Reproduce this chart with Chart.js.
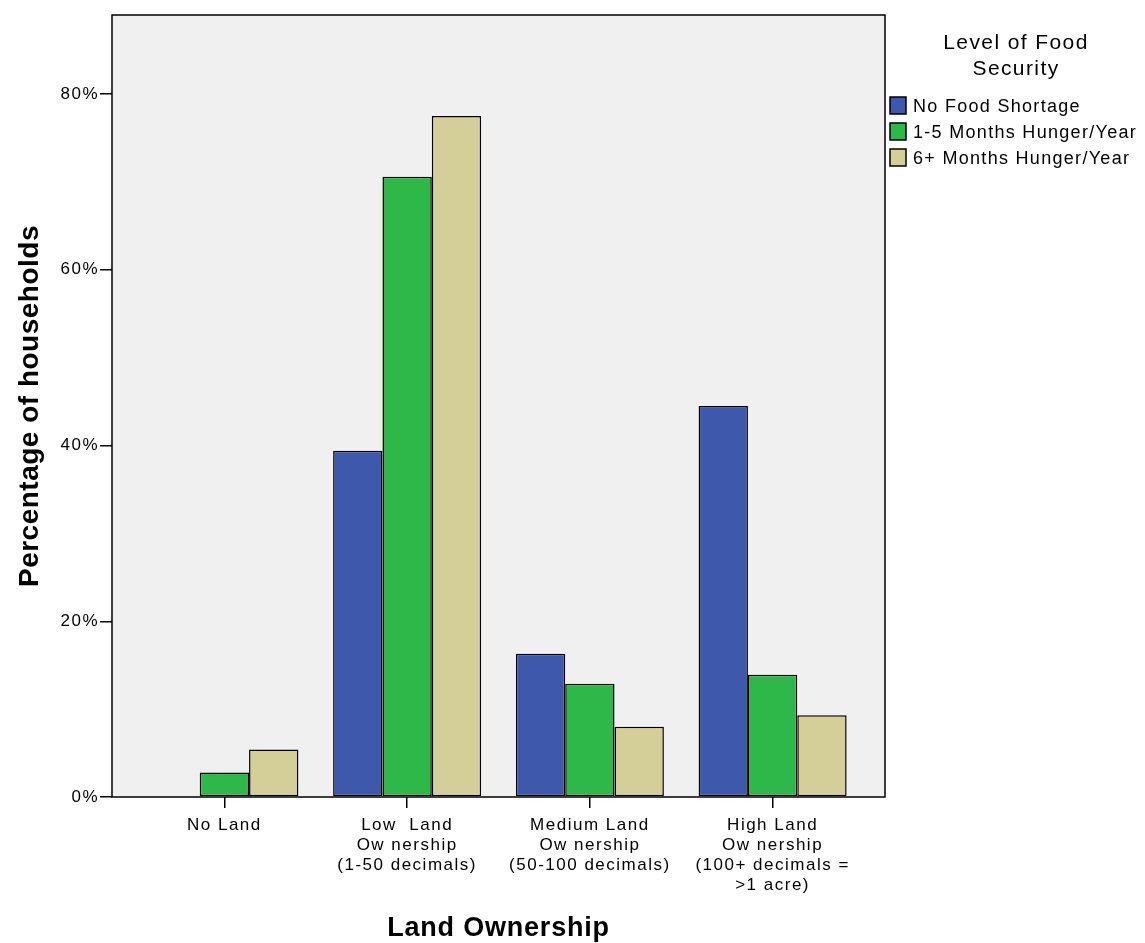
<!DOCTYPE html>
<html><head><meta charset="utf-8">
<script src="https://cdn.jsdelivr.net/npm/chart.js@4"></script>
<style>html,body{margin:0;padding:0;background:#fff}#wrap{width:1145px;height:943px}</style>
</head><body><div id="wrap"><canvas id="c" width="1145" height="943"></canvas></div>
<script>
const categories = [
  ["No Land"],
  ["Low  Land", "Ow nership", "(1-50 decimals)"],
  ["Medium Land", "Ow nership", "(50-100 decimals)"],
  ["High Land", "Ow nership", "(100+ decimals =", ">1 acre)"]
];
const seriesNames = ["No Food Shortage", "1-5 Months Hunger/Year", "6+ Months Hunger/Year"];
const noShortage = [0, 39.4, 16.3, 44.5];
const hunger1to5 = [2.8, 70.6, 12.9, 13.9];
const hunger6plus = [5.4, 77.5, 8.0, 9.3];
const yTicks = [0, 20, 40, 60, 80];
const colors = ["#3e58ac", "#2fb84a", "#d4cf98"];
const FONT = "'Liberation Sans', Arial, sans-serif";

const spacing = {
  id: 'spacing',
  beforeUpdate(chart) { chart.ctx.letterSpacing = '1.5px'; },
  beforeDraw(chart) { chart.ctx.letterSpacing = '1.5px'; }
};

const decor = {
  id: 'decor',
  beforeDatasetsDraw(chart) {
    const {ctx, chartArea: a} = chart;
    ctx.save();
    ctx.fillStyle = '#f0f0f0';
    ctx.fillRect(a.left, a.top, a.right - a.left, a.bottom - a.top);
    ctx.restore();
  },
  afterDatasetsDraw(chart) {
    const {ctx, chartArea: a} = chart;
    ctx.save();
    ctx.strokeStyle = '#000';
    ctx.lineWidth = 1.5;
    ctx.strokeRect(a.left, a.top, a.right - a.left, a.bottom - a.top);
    // axis titles
    ctx.fillStyle = '#000';
    ctx.font = "bold 27px " + FONT;
    ctx.letterSpacing = '0.8px';
    ctx.textAlign = 'center';
    ctx.textBaseline = 'middle';
    ctx.fillText("Land Ownership", (a.left + a.right) / 2, 929);
    ctx.translate(30, 406);
    ctx.rotate(-Math.PI / 2);
    ctx.font = "bold 28px " + FONT;
    ctx.letterSpacing = '0.5px';
    ctx.fillText("Percentage of households", 0, 0);
    ctx.restore();
    // legend
    ctx.save();
    ctx.fillStyle = '#000';
    ctx.font = "21px " + FONT;
    ctx.letterSpacing = '1.4px';
    ctx.textAlign = 'center';
    ctx.textBaseline = 'middle';
    ctx.fillText("Level of Food", 1016, 43);
    ctx.fillText("Security", 1016, 69);
    ctx.font = "18px " + FONT;
    ctx.letterSpacing = '1.3px';
    ctx.textAlign = 'left';
    const ys = [106, 132, 158];
    seriesNames.forEach((n, i) => {
      ctx.fillStyle = colors[i];
      ctx.fillRect(890, ys[i] - 9, 16, 17);
      ctx.strokeStyle = '#000';
      ctx.lineWidth = 1.5;
      ctx.strokeRect(890, ys[i] - 9, 16, 17);
      ctx.fillStyle = '#000';
      ctx.fillText(n, 913, ys[i] + 1);
    });
    ctx.restore();
  }
};

const mk = (label, data, i) => ({
  label,
  data: data.map((v, k) => ({x: k, y: v})),
  backgroundColor: colors[i],
  borderColor: '#000',
  borderWidth: 1.5,
  borderSkipped: false,
  categoryPercentage: 0.81,
  barPercentage: 1.0
});

new Chart(document.getElementById('c'), {
  type: 'bar',
  data: {
    datasets: [mk(seriesNames[0], noShortage, 0), mk(seriesNames[1], hunger1to5, 1), mk(seriesNames[2], hunger6plus, 2)]
  },
  options: {
    responsive: false,
    animation: false,
    layout: {padding: {left: 0, top: 15, right: 260, bottom: 0}},
    plugins: {legend: {display: false}, tooltip: {enabled: false}},
    scales: {
      x: {
        type: 'linear',
        min: -0.615, max: 3.615,
        offset: false,
        afterFit(s) { s.height = 146; },
        afterBuildTicks(s) { s.ticks = categories.map((c, k) => ({value: k})); },
        grid: {display: true, offset: false, drawOnChartArea: false, drawTicks: true, tickLength: 11, color: '#000', lineWidth: 1.5},
        border: {display: false},
        ticks: {color: '#000', font: {family: FONT, size: 17, lineHeight: 1.18}, padding: 7, maxRotation: 0, autoSkip: false,
          callback: v => categories[v]}
      },
      y: {
        min: 0, max: 89,
        afterFit(s) { s.width = 112; },
        afterBuildTicks(s) { s.ticks = yTicks.map(v => ({value: v})); },
        grid: {display: true, drawOnChartArea: false, drawTicks: true, tickLength: 12, color: '#000', lineWidth: 1.5},
        border: {display: false},
        ticks: {color: '#000', font: {family: FONT, size: 17}, padding: 1, callback: v => v + '%'}
      }
    }
  },
  plugins: [spacing, decor]
});
</script></body></html>
